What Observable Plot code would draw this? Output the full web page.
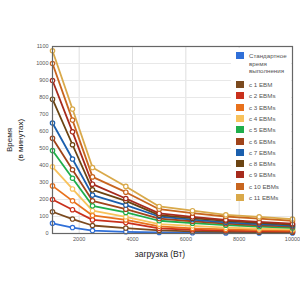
<!DOCTYPE html>
<html><head><meta charset="utf-8">
<script src="https://cdn.jsdelivr.net/npm/d3@7"></script>
<script src="https://cdn.jsdelivr.net/npm/@observablehq/plot@0.6"></script>
<style>
body{margin:0;background:#fff;font-family:Arial,"Liberation Sans",sans-serif;}
#wrap{position:relative;width:300px;height:300px;overflow:hidden;}
#legend{position:absolute;left:231px;top:48px;width:60px;background:#fff;font-size:6.2px;color:#555;line-height:7.5px;}
.item{position:absolute;left:5px;display:flex;align-items:flex-start;}
.sw{width:8px;height:7px;margin-right:5px;flex:none;}
#ylab{position:absolute;left:15px;top:140px;transform:translate(-50%,-50%) rotate(-90deg);font-size:8px;color:#222;text-align:center;line-height:10.5px;white-space:nowrap;}
#xlab{position:absolute;left:0;width:320px;top:249px;text-align:center;font-size:8.5px;color:#222;}
</style></head><body>
<div id="wrap"><div id="chart"></div><div id="legend"></div><div id="ylab">Время<br>(в минутах)</div><div id="xlab">загрузка (Вт)</div></div>
<script>
const loads = [1000, 1750, 2500, 3750, 5000, 6250, 7500, 8750, 10000];
const seriesNames = ["Стандартное время выполнения","с 1 EBM","с 2 EBMs","с 3 EBMs","с 4 EBMs","с 5 EBMs","с 6 EBMs","с 7 EBMs","с 8 EBMs","с 9 EBMs","с 10 EBMs","с 11 EBMs"];
const seriesColors = ["#2f6fd8","#7b4a1e","#c9301c","#e8711c","#f8c25c","#1fae4b","#a0441a","#1b5fad","#6b4412","#a62a1c","#c8651f","#d9a94a"];
const vStd = [60, 35, 17, 10, 6, 4, 3, 3, 3];
const v1 = [128, 85, 47, 32, 18, 12, 10, 8, 7];
const v2 = [200, 140, 80, 64, 30, 22, 17, 14, 12];
const v3 = [280, 192, 106, 80, 42, 30, 24, 20, 17];
const v4 = [392, 262, 134, 98, 55, 45, 35, 28, 24];
const v5 = [488, 325, 163, 124, 75, 61, 49, 40, 33];
const v6 = [560, 375, 192, 143, 88, 72, 58, 48, 40];
const v7 = [650, 438, 226, 167, 100, 82, 66, 55, 46];
const v8 = [790, 522, 257, 192, 108, 90, 74, 62, 52];
const v9 = [900, 598, 290, 206, 118, 98, 80, 68, 58];
const v10 = [1000, 667, 333, 243, 143, 120, 100, 88, 75];
const v11 = [1075, 732, 388, 277, 159, 134, 110, 98, 85];
const xTicks = [2000, 4000, 6000, 8000, 10000];
const yTicks = [0,100,200,300,400,500,600,700,800,900,1000,1100];

const allValues = [vStd,v1,v2,v3,v4,v5,v6,v7,v8,v9,v10,v11];
const data = [];
allValues.forEach((vals, i) => vals.forEach((v, j) => data.push({series: seriesNames[i], x: loads[j], y: v})));

const chart = Plot.plot({
  width: 300, height: 300,
  marginLeft: 52, marginRight: 8, marginTop: 46, marginBottom: 67,
  style: {fontFamily: "Arial, 'Liberation Sans', sans-serif", fontSize: "5.5px", color: "#555"},
  x: {domain: [1000, 10000], ticks: xTicks, tickFormat: d => String(d), label: null, tickSize: 0, tickPadding: 4},
  y: {domain: [0, 1100], ticks: yTicks, tickFormat: d => String(d), label: null, tickSize: 0, tickPadding: 4},
  color: {domain: seriesNames, range: seriesColors},
  marks: [
    Plot.gridX(xTicks, {stroke: "#dedede", strokeOpacity: 1}),
    Plot.gridY(yTicks, {stroke: "#e8e8e8", strokeOpacity: 1}),
    Plot.line(data, {x: "x", y: "y", z: "series", stroke: "series", strokeWidth: 1.8}),
    Plot.dot(data, {x: "x", y: "y", stroke: "series", fill: "white", r: 2.2, strokeWidth: 1.2}),
    Plot.frame({stroke: "#666", strokeWidth: 1.2})
  ]
});
document.getElementById("chart").appendChild(chart);

const legendBox = document.getElementById("legend");
let rowTop = 4;
seriesNames.forEach((name, i) => {
  const it = document.createElement("div");
  it.className = "item";
  it.style.top = rowTop + "px";
  const sw = document.createElement("div");
  sw.className = "sw"; sw.style.background = seriesColors[i];
  const tx = document.createElement("div");
  if (i === 0) tx.innerHTML = "Стандартное<br>время<br>выполнения";
  else tx.textContent = name;
  it.appendChild(sw); it.appendChild(tx);
  legendBox.appendChild(it);
  rowTop += i === 0 ? 29 : 11.3;
});
legendBox.style.height = "152px";
</script></body></html>
